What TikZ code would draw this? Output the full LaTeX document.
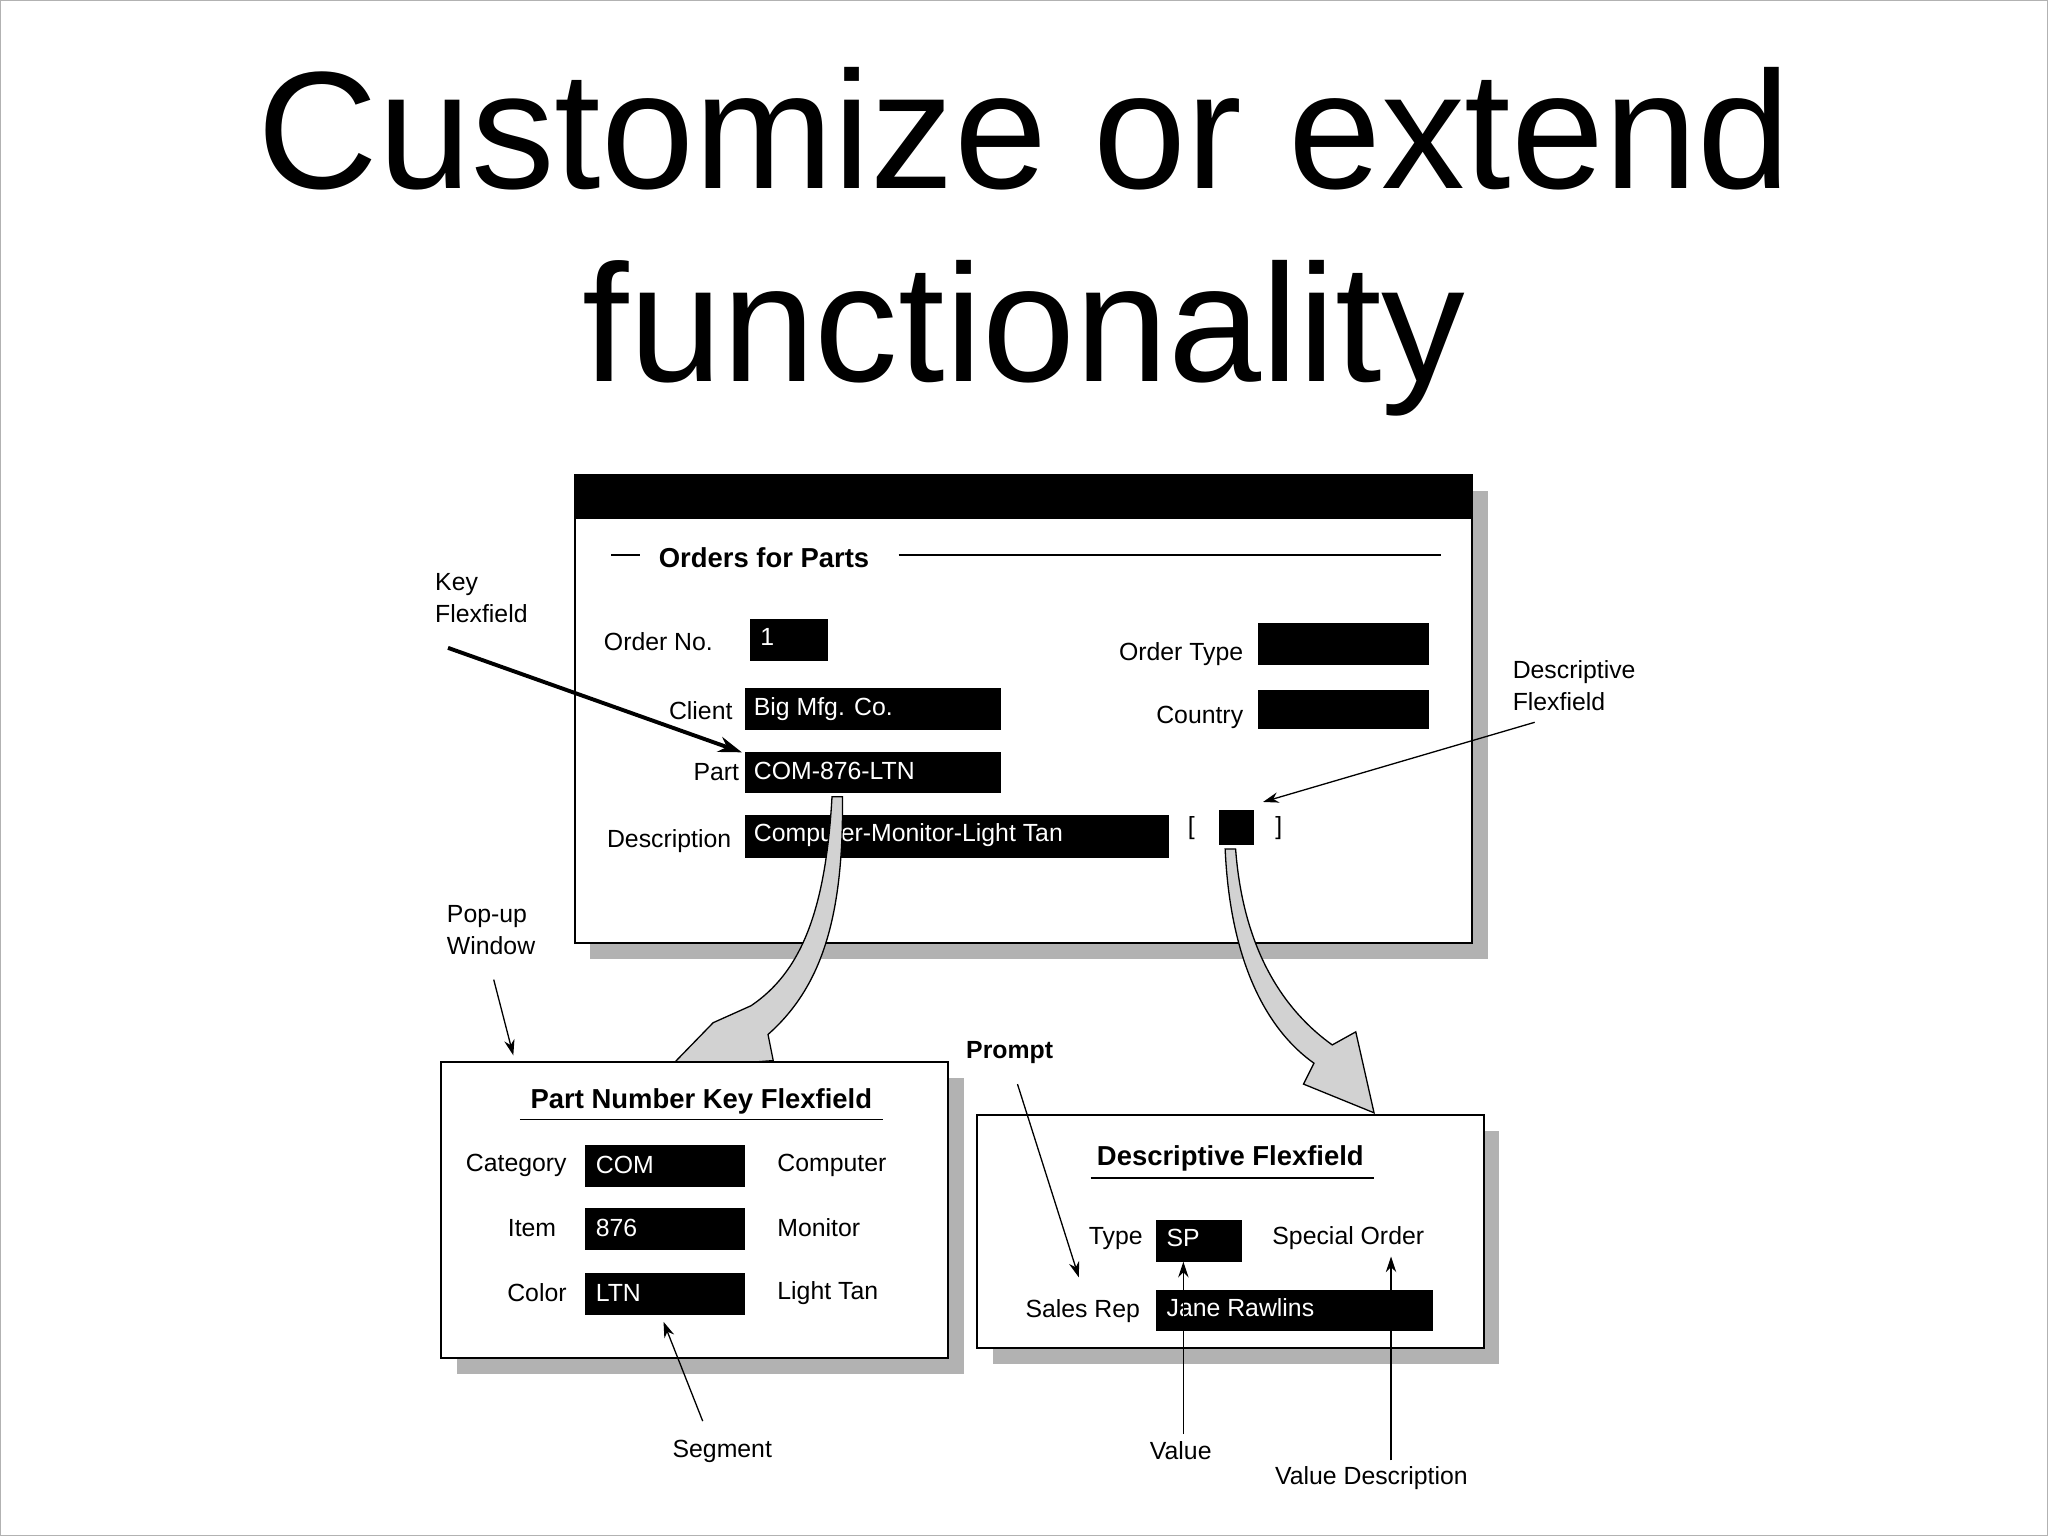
\documentclass[tikz,border=0pt]{standalone}
\usepackage{fontspec}
\setmainfont{Liberation Sans}
\usetikzlibrary{arrows.meta}
\begin{document}
\begin{tikzpicture}[x=1pt,y=-1pt,
 lbl/.style={font=\fontsize{19}{21}\selectfont,inner sep=0pt},
 fld/.style={fill=black,text=white,font=\fontsize{19}{21}\selectfont,inner sep=0pt},
 win/.style={draw=black,line width=1.5pt,fill=white},
 shadow/.style={fill=gray!60,draw=none},
 ptr/.style={-{Stealth[length=12pt,width=8pt]},line width=1pt},
 blk/.style={fill=gray!35,draw=black,line width=1pt}]
\useasboundingbox (0,0) rectangle (1568,1176);
\draw[gray!60,line width=1pt] (0.5,0.5) rectangle (1567.5,1175.5);
\node[font=\fontsize{128}{148}\selectfont,align=center,inner sep=0pt] (title) at (784,185) {Customize or extend\\functionality};
% main window
\fill[shadow] (452,376) rectangle (1139,734);
\draw[win] (440,364) rectangle (1127,722);
\fill (440,364) rectangle (1127,397);
\node[lbl,font=\bfseries\fontsize{21}{23}\selectfont] (oft) at (585,427) {Orders for Parts};
\draw[line width=1pt] (468,425) -- (490,425) (688,425) -- (1103,425);
\node[lbl,anchor=east] (ordno) at (546,491) {Order No.};
\fill (574,474) rectangle (634,506); \node[fld,anchor=west] (f1) at (582,488) {1};
\node[lbl,anchor=east] (client) at (561,544) {Client};
\fill (570,527) rectangle (766,559); \node[fld,anchor=west] (f2) at (577,543) {Big Mfg. Co.};
\node[lbl,anchor=east] (part) at (566,591) {Part};
\fill (570,576) rectangle (766,607); \node[fld,anchor=west] (f3) at (577,590) {COM-876-LTN};
\node[lbl,anchor=east] (desc) at (560,644) {Description};
\fill (570,624) rectangle (895,657); \node[fld,anchor=west] (f4) at (577,639) {Computer-Monitor-Light Tan};
\node[lbl,anchor=east] (otype) at (952,501) {Order Type};
\fill (963,477) rectangle (1094,509);
\node[lbl,anchor=east] (country) at (952,549) {Country};
\fill (963,528) rectangle (1094,558);
\node[lbl] (lb) at (912,634) {[}; \node[lbl] (rb) at (979,634) {]};
\fill (933,620) rectangle (960,647);
\coordinate (partbox) at (568,576);
\coordinate (dffbox) at (967,614);
\node[lbl,align=left,anchor=west] (kff) at (333,458) {Key\\[3pt]Flexfield};
\draw[-{Stealth[length=18pt,width=12pt]},line width=3pt] (343,496) -- (partbox);
\node[lbl,align=left,anchor=west] (dff) at (1158,525) {Descriptive\\[3pt]Flexfield};
\draw[ptr] (1175,553) -- (dffbox);
% block arrows
\draw[blk] (637,610) .. controls (632,700) and (612,745) .. (575,770) -- (546,783) -- (512,818) -- (592,812) -- (588,792) .. controls (630,755) and (646,700) .. (645,610) -- cycle;
\draw[blk] (938,650) .. controls (942,740) and (972,790) .. (1006,814) -- (998,830) -- (1052,852) -- (1038,790) -- (1020,800) .. controls (985,775) and (952,730) .. (946,650) -- cycle;
% popup
\node[lbl,align=left,anchor=west] (popup) at (342,712) {Pop-up\\[3pt]Window};
\coordinate (pw) at (393,808);
\draw[ptr] (378,750) -- (pw);
\fill[shadow] (350,825) rectangle (738,1052);
\draw[win] (338,813) rectangle (726,1040);
\node[lbl,font=\bfseries\fontsize{21}{23}\selectfont] (pnk) at (537,843) {Part Number Key Flexfield};
\draw[line width=1pt] (398,857) -- (676,857);
\node[lbl,anchor=east] (cat) at (434,892) {Category};
\fill (448,877) rectangle (570,909); \node[fld,anchor=west] (c1) at (456,892) {COM};
\node[lbl,anchor=west] (comp) at (595,892) {Computer};
\node[lbl,anchor=east] (item) at (426,940) {Item};
\fill (448,925) rectangle (570,957); \node[fld,anchor=west] (c2) at (456,940) {876};
\node[lbl,anchor=west] (mon) at (595,940) {Monitor};
\node[lbl,anchor=east] (color) at (434,990) {Color};
\fill (448,975) rectangle (570,1007); \node[fld,anchor=west] (c3) at (456,990) {LTN};
\node[lbl,anchor=west] (lt) at (595,990) {Light Tan};
\node[lbl] (seg) at (553,1111) {Segment};
\coordinate (segt) at (508,1012);
\draw[ptr] (538,1088) -- (segt);
% descriptive
\fill[shadow] (760,866) rectangle (1148,1044);
\draw[win] (748,854) rectangle (1136,1032);
\node[lbl,font=\bfseries\fontsize{21}{23}\selectfont] (dft) at (942,887) {Descriptive Flexfield};
\draw[line width=1pt] (835,902) -- (1052,902);
\node[lbl,anchor=east] (type) at (875,948) {Type};
\fill (885,934) rectangle (951,966); \node[fld,anchor=west] (d1) at (893,948) {SP};
\node[lbl,anchor=west] (so) at (974,948) {Special Order};
\node[lbl,anchor=east] (srep) at (873,1004) {Sales Rep};
\fill (885,988) rectangle (1097,1019); \node[fld,anchor=west] (d2) at (893,1001) {Jane Rawlins};
\node[lbl,font=\bfseries\fontsize{19}{21}\selectfont] (prompt) at (773,806) {Prompt};
\coordinate (pt) at (826,978);
\draw[ptr] (779,830) -- (pt);
\node[lbl] (val) at (904,1111) {Value};
\coordinate (vt) at (906,966);
\draw[ptr] (906,1098) -- (vt);
\node[lbl] (vd) at (1050,1132) {Value Description};
\coordinate (vdt) at (1065,962);
\draw[ptr] (1065,1118) -- (vdt);
\end{tikzpicture}
\end{document}
